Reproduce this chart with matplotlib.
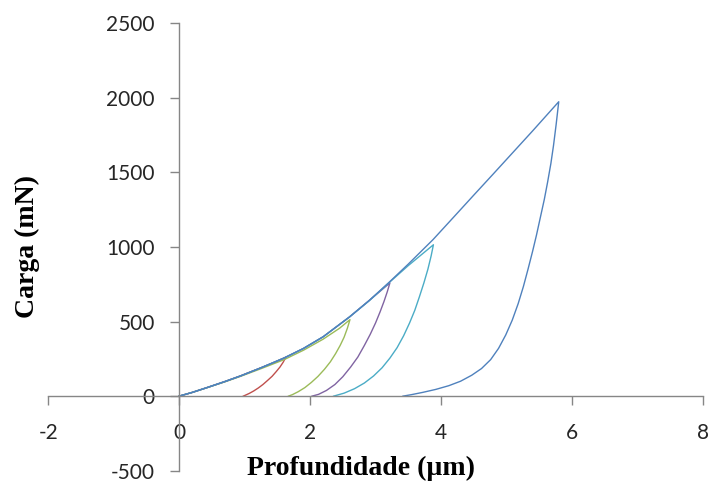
import matplotlib
matplotlib.use("Agg")
import matplotlib.pyplot as plt

# Depth (µm) and load (mN): loading branch, then unloading branch
red_depth = [0, 0.2, 0.43, 0.7, 0.94, 1.25, 1.45, 1.63,
             1.59, 1.54, 1.48, 1.42, 1.35, 1.28, 1.21, 1.14, 1.07, 1.01, 0.98]
red_load = [0, 25, 58, 98, 136, 190, 225, 261,
            228, 195, 163, 133, 105, 78, 55, 35, 18, 6, 0]

green_depth = [0, 0.2, 0.43, 0.7, 0.94, 1.25, 1.6, 1.9, 2.2, 2.45, 2.61,
               2.57, 2.52, 2.46, 2.39, 2.31, 2.22, 2.12, 2.02, 1.92, 1.82, 1.73, 1.67]
green_load = [0, 25, 57, 96, 133, 184, 244, 308, 382, 455, 513,
              455, 395, 340, 285, 230, 180, 132, 92, 57, 30, 10, 0]

purple_depth = [0, 0.2, 0.43, 0.7, 0.94, 1.25, 1.6, 1.9, 2.2, 2.6, 2.9, 3.22,
                3.18, 3.13, 3.07, 3.00, 2.92, 2.83, 2.73, 2.62, 2.50, 2.38, 2.25, 2.13, 2.03]
purple_load = [0, 25, 58, 98, 136, 190, 255, 320, 398, 530, 640, 759,
               700, 635, 565, 490, 415, 340, 262, 195, 130, 78, 38, 12, 0]

cyan_depth = [0, 0.2, 0.43, 0.7, 0.94, 1.25, 1.6, 1.9, 2.2, 2.6, 2.9, 3.2, 3.5, 3.885,
              3.85, 3.80, 3.74, 3.67, 3.60, 3.52, 3.43, 3.33, 3.22, 3.10, 2.97, 2.83, 2.68, 2.52, 2.36]
cyan_load = [0, 25, 58, 98, 136, 190, 255, 320, 398, 530, 638, 758, 875, 1015,
             940, 850, 760, 665, 575, 490, 405, 325, 255, 190, 135, 88, 50, 20, 0]

blue_depth = [0, 0.2, 0.43, 0.7, 0.94, 1.25, 1.6, 1.9, 2.2, 2.6, 2.9, 3.2, 3.5, 3.88,
              4.2, 4.5, 4.8, 5.1, 5.4, 5.8,
              5.76, 5.72, 5.68, 5.63, 5.58, 5.52, 5.46, 5.40, 5.33, 5.26, 5.18, 5.09, 4.99,
              4.88, 4.76, 4.62, 4.47, 4.30, 4.12, 3.92, 3.72, 3.55, 3.42]
blue_load = [0, 25, 58, 98, 136, 190, 255, 320, 398, 530, 640, 760, 885, 1050,
             1203, 1347, 1490, 1634, 1778, 1974,
             1820, 1680, 1560, 1435, 1320, 1200, 1080, 970, 850, 735, 620, 510, 410,
             320, 245, 185, 140, 100, 70, 45, 25, 10, 0]

series = [
    (red_depth, red_load, "#C0504D"),
    (green_depth, green_load, "#9BBB59"),
    (purple_depth, purple_load, "#8064A2"),
    (cyan_depth, cyan_load, "#4BACC6"),
    (blue_depth, blue_load, "#4F81BD"),
]

x_ticks = [-2, 0, 2, 4, 6, 8]
y_ticks = [-500, 0, 500, 1000, 1500, 2000, 2500]

fig = plt.figure(figsize=(7.09, 4.91), dpi=100)
ax = fig.add_axes([48.3 / 709, 1 - 470.7 / 491, (702.7 - 48.3) / 709, (470.7 - 23.3) / 491])

for d, l, c in series:
    ax.plot(d, l, color=c, lw=1.0, solid_joinstyle="round")

ax.set_xlim(-2, 8)
ax.set_ylim(-500, 2500)
ax.set_xticks(x_ticks)
ax.set_yticks(y_ticks)
ax.set_xticklabels([str(v) for v in x_ticks])
ax.set_yticklabels([str(v) for v in y_ticks])

axis_color = "#868686"
for s in ["top", "right"]:
    ax.spines[s].set_visible(False)
ax.spines["left"].set_position(("data", 0))
ax.spines["bottom"].set_position(("data", 0))
for s in ["left", "bottom"]:
    ax.spines[s].set_color(axis_color)
    ax.spines[s].set_linewidth(1.0)

ax.tick_params(axis="both", direction="out", length=6.5, width=1.0, color=axis_color,
               labelsize=15, labelcolor="#262626")
ax.tick_params(axis="y", pad=11)
ax.tick_params(axis="x", pad=13)
for lab in ax.get_xticklabels() + ax.get_yticklabels():
    lab.set_family(["Lato", "DejaVu Sans"])

fig.text(361 / 709, 1 - 468 / 491, "Profundidade (µm)", ha="center", va="center",
         fontsize=20, fontweight="bold", family=["Liberation Serif", "DejaVu Serif"])
fig.text(27 / 709, 1 - 247 / 491, "Carga (mN)", ha="center", va="center", rotation=90,
         fontsize=20, fontweight="bold", family=["Liberation Serif", "DejaVu Serif"])

fig.savefig("out.png", dpi=100, facecolor="white")
